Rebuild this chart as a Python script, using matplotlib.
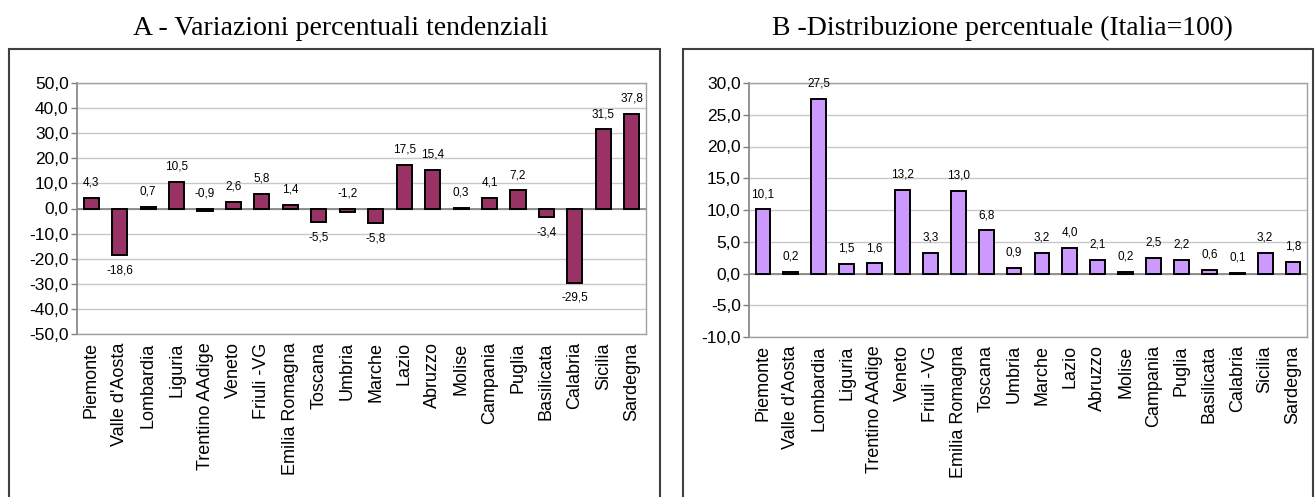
import matplotlib
matplotlib.use("Agg")
import matplotlib.pyplot as plt
from matplotlib.patches import Rectangle
from matplotlib.ticker import FuncFormatter, MultipleLocator

regions = ["Piemonte", "Valle d'Aosta", "Lombardia", "Liguria", "Trentino AAdige",
           "Veneto", "Friuli -VG", "Emilia Romagna", "Toscana", "Umbria", "Marche",
           "Lazio", "Abruzzo", "Molise", "Campania", "Puglia", "Basilicata",
           "Calabria", "Sicilia", "Sardegna"]
var_tend = [4.3, -18.6, 0.7, 10.5, -0.9, 2.6, 5.8, 1.4, -5.5, -1.2, -5.8,
            17.5, 15.4, 0.3, 4.1, 7.2, -3.4, -29.5, 31.5, 37.8]
distrib = [10.1, 0.2, 27.5, 1.5, 1.6, 13.2, 3.3, 13.0, 6.8, 0.9, 3.2,
           4.0, 2.1, 0.2, 2.5, 2.2, 0.6, 0.1, 3.2, 1.8]
title_a = "A - Variazioni percentuali tendenziali"
title_b = "B -Distribuzione percentuale (Italia=100)"

W, H = 1315, 497
fig = plt.figure(figsize=(W / 100, H / 100), dpi=100)
sans = ["Liberation Sans", "DejaVu Sans"]
serif = ["Liberation Serif", "DejaVu Serif"]

def comma(v, pos=None):
    return f"{v:.1f}".replace(".", ",")

def px_axes(x0, x1, ytop, ybot):
    return fig.add_axes([x0 / W, 1 - ybot / H, (x1 - x0) / W, (ybot - ytop) / H])

def draw(ax, vals, color, ylim, step):
    x = list(range(len(vals)))
    ax.bar(x, vals, width=0.53, color=color, edgecolor="black", linewidth=1.4, zorder=3)
    ax.set_xlim(-0.5, len(vals) - 0.5)
    ax.set_ylim(*ylim)
    ax.yaxis.set_major_locator(MultipleLocator(step))
    ax.yaxis.set_major_formatter(FuncFormatter(comma))
    ax.grid(axis="y", color="#c8c8c8", linewidth=1.0, zorder=0)
    ax.axhline(0, color="#808080", linewidth=1.2, zorder=2)
    for s in ["top", "right", "bottom"]:
        ax.spines[s].set_color("#a0a0a0")
        ax.spines[s].set_linewidth(1.0)
    ax.spines["left"].set_color("#808080")
    ax.spines["left"].set_linewidth(1.2)
    ax.tick_params(axis="y", direction="out", length=4, width=1.0, color="#808080",
                   labelsize=12.5, pad=2)
    ax.tick_params(axis="x", length=0, pad=6)
    ax.set_xticks(x)
    ax.set_xticklabels(regions, rotation=90, fontsize=13, family=sans, va="top")
    for lab in ax.get_yticklabels():
        lab.set_family(sans)
    for xi, v in zip(x, vals):
        if v >= 0 or abs(v) < 2:
            ax.annotate(comma(v), (xi, max(v, 0)), xytext=(0, 11), textcoords="offset points",
                        ha="center", va="center", fontsize=8.5, family=sans)
        else:
            ax.annotate(comma(v), (xi, v), xytext=(0, -11), textcoords="offset points",
                        ha="center", va="center", fontsize=8.5, family=sans)

axA = px_axes(77, 646, 83, 334)
draw(axA, var_tend, "#993366", (-50, 50), 10)
axB = px_axes(749, 1307, 83, 337)
draw(axB, distrib, "#cc99ff", (-10, 30), 5)

# outer frames
for (x0, x1) in [(9, 660), (683, 1313)]:
    fig.patches.append(Rectangle((x0 / W, -0.05), (x1 - x0) / W, 1.05 - 49 / H,
                                 transform=fig.transFigure, fill=False,
                                 edgecolor="#404040", linewidth=1.5))

fig.text(341 / W, 1 - 35 / H, title_a, ha="center", va="baseline", fontsize=20, family=serif)
fig.text(1002 / W, 1 - 35 / H, title_b, ha="center", va="baseline", fontsize=20, family=serif)

fig.savefig("out.png", dpi=100)
